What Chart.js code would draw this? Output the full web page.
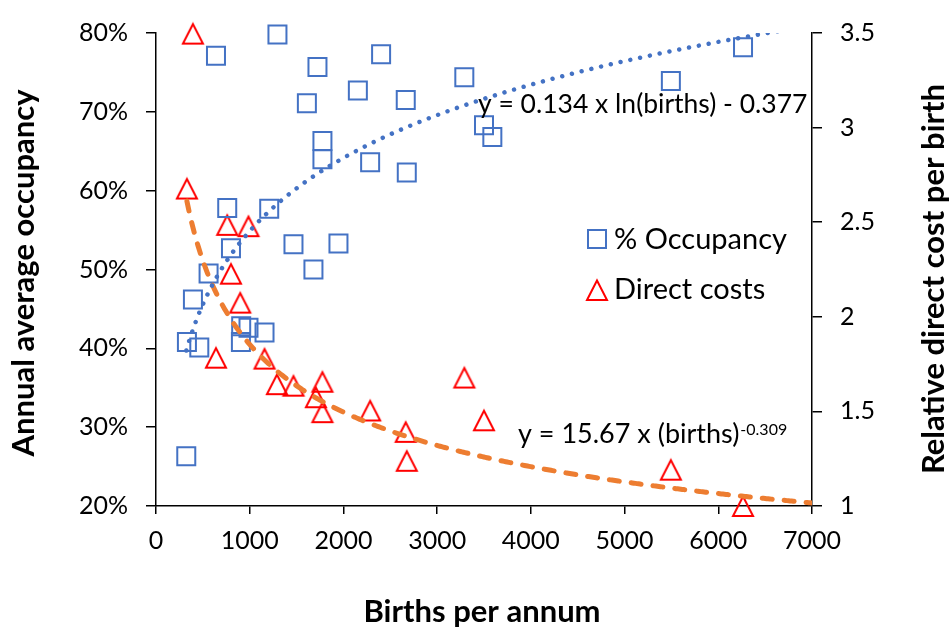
<!DOCTYPE html>
<html>
<head>
<meta charset="utf-8">
<script src="https://cdn.jsdelivr.net/npm/chart.js@4.4.1/dist/chart.umd.min.js"></script>
<style>
  html, body { margin: 0; padding: 0; background: #ffffff; }
  #wrap { width: 949px; height: 628px; position: relative; }
</style>
</head>
<body>
<div id="wrap"><canvas id="chart" width="949" height="628"></canvas></div>
<script>
// Births per annum and annual average occupancy (fraction) per unit
const occBirths = [323, 330, 394, 462, 561, 640, 760, 800, 906, 909, 987, 1158, 1208, 1296, 1467,
                   1610, 1680, 1723, 1776, 1776, 1947, 2154, 2285, 2402, 2665, 2676, 3290, 3500,
                   3589, 5494, 6264];
const occupancy = [0.263, 0.408, 0.462, 0.401, 0.495, 0.771, 0.578, 0.527, 0.408, 0.428, 0.426,
                   0.420, 0.577, 0.798, 0.532, 0.711, 0.500, 0.757, 0.663, 0.640, 0.533, 0.727,
                   0.636, 0.773, 0.715, 0.623, 0.744, 0.683, 0.668, 0.739, 0.782];

// Births per annum and relative direct cost per birth
const costBirths = [330, 394, 640, 760, 800, 899, 987, 1158, 1290, 1467, 1706, 1776, 1776, 2285,
                    2665, 2676, 3290, 3500, 5494, 6264];
const directCost = [2.678, 3.497, 1.784, 2.486, 2.228, 2.075, 2.479, 1.779, 1.644, 1.636, 1.575,
                    1.657, 1.496, 1.505, 1.392, 1.239, 1.679, 1.453, 1.192, 1.000];

// Fitted trend coefficients (as printed on the chart)
const logSlope = 0.134, logIntercept = -0.377;   // occupancy = a ln(births) + b
const powCoef = 15.67, powExp = -0.309;          // cost = c births^k

// Axis ranges and tick steps
const xRange = [0, 7000], xStep = 1000;
const occRange = [0.2, 0.8], occStep = 0.1;
const costRange = [1, 3.5], costStep = 0.5;

const seriesNames = ['% Occupancy', 'Direct costs'];
const axisTitles = { x: 'Births per annum', left: 'Annual average occupancy', right: 'Relative direct cost per birth' };

const BLUE = '#4472C4', RED = '#FF0000', ORANGE = '#ED7D31';
const FONT = 'Lato, "Open Sans", sans-serif';

// Trend curves evaluated from the printed equations, from the first data point to the axis end
function curve(x0, x1, fn) {
  const pts = [];
  const n = 400;
  for (let i = 0; i <= n; i++) {
    const x = x0 + (x1 - x0) * i / n;
    pts.push({ x, y: fn(x) });
  }
  return pts;
}
const logTrend = curve(Math.min(...occBirths), xRange[1], x => logSlope * Math.log(x) + logIntercept);
const powTrend = curve(Math.min(...costBirths), xRange[1], x => powCoef * Math.pow(x, powExp));

// Open triangle marker (equal width and height)
function triangleMarker(color) {
  const c = document.createElement('canvas');
  c.width = 26; c.height = 26;
  const g = c.getContext('2d');
  g.strokeStyle = color;
  g.lineWidth = 2;
  g.lineJoin = 'miter';
  g.beginPath();
  g.moveTo(13, 3.5);
  g.lineTo(23, 23);
  g.lineTo(3, 23);
  g.closePath();
  g.stroke();
  return c;
}
const triImg = triangleMarker(RED);

const overlay = {
  id: 'overlay',
  afterDraw(chart) {
    const ctx = chart.ctx;
    const ca = chart.chartArea;
    ctx.save();
    ctx.fillStyle = '#000';

    // axis titles
    ctx.font = 'bold 31px ' + FONT;
    ctx.textAlign = 'center';
    ctx.textBaseline = 'alphabetic';
    ctx.fillText(axisTitles.x, (ca.left + ca.right) / 2 - 2, 622);
    ctx.save();
    ctx.translate(34, 273);
    ctx.rotate(-Math.PI / 2);
    ctx.fillText(axisTitles.left, 0, 0);
    ctx.restore();
    ctx.save();
    ctx.translate(944, 279);
    ctx.rotate(-Math.PI / 2);
    ctx.fillText(axisTitles.right, 0, 0);
    ctx.restore();

    // trend equations
    ctx.textAlign = 'left';
    ctx.font = '26.5px ' + FONT;
    const eq1 = 'y = ' + logSlope.toFixed(3) + ' x ln(births) - ' + Math.abs(logIntercept).toFixed(3);
    ctx.fillText(eq1, 478, 113);
    ctx.font = '27px ' + FONT;
    const eq2 = 'y = ' + powCoef.toFixed(2) + ' x (births)';
    ctx.fillText(eq2, 518, 443);
    const w2 = ctx.measureText(eq2).width;
    ctx.font = '16px ' + FONT;
    ctx.fillText(powExp.toFixed(3), 518 + w2 + 1, 435);

    // legend
    ctx.font = '29px ' + FONT;
    const lx = 597;
    ctx.strokeStyle = BLUE;
    ctx.lineWidth = 2;
    ctx.strokeRect(lx - 9, 239 - 9, 18, 18);
    ctx.fillText(seriesNames[0], 614, 249);
    ctx.drawImage(triImg, lx - 13, 290 - 13);
    ctx.fillText(seriesNames[1], 614, 299);
    ctx.restore();
  }
};

const axisGrid = len => ({ drawOnChartArea: false, drawTicks: true, tickLength: len, color: '#000', lineWidth: 1.5 });
const axisBorder = { display: true, color: '#000', width: 1.5 };
const tickFont = { family: FONT, size: 25 };

new Chart(document.getElementById('chart'), {
  type: 'scatter',
  data: {
    datasets: [
      {
        label: 'Occupancy trend',
        data: logTrend,
        yAxisID: 'yL',
        showLine: true,
        borderColor: BLUE,
        borderWidth: 4.5,
        borderDash: [0.001, 10],
        borderCapStyle: 'round',
        pointRadius: 0,
        order: 0
      },
      {
        label: 'Cost trend',
        data: powTrend,
        yAxisID: 'yR',
        showLine: true,
        borderColor: ORANGE,
        borderWidth: 5,
        borderDash: [10, 12],
        borderCapStyle: 'round',
        pointRadius: 0,
        order: 0
      },
      {
        label: seriesNames[0],
        data: occBirths.map((b, i) => ({ x: b, y: occupancy[i] })),
        yAxisID: 'yL',
        pointStyle: 'rect',
        pointRadius: 12.73,
        pointBorderWidth: 2,
        pointBorderColor: BLUE,
        pointBackgroundColor: 'rgba(0,0,0,0)',
        clip: false,
        order: 1
      },
      {
        label: seriesNames[1],
        data: costBirths.map((b, i) => ({ x: b, y: directCost[i] })),
        yAxisID: 'yR',
        pointStyle: triImg,
        pointRadius: 13,
        clip: false,
        order: 1
      }
    ]
  },
  options: {
    responsive: false,
    animation: false,
    events: [],
    layout: { padding: { top: 27, left: 0, right: 0, bottom: 0 } },
    plugins: { legend: { display: false }, tooltip: { enabled: false } },
    scales: {
      x: {
        type: 'linear', position: 'bottom',
        min: xRange[0], max: xRange[1],
        ticks: { stepSize: xStep, color: '#000', font: tickFont, padding: 12, maxRotation: 0,
                 callback: v => String(v) },
        grid: axisGrid(8), border: axisBorder,
        afterFit(s) { s.height = 122; }
      },
      yL: {
        type: 'linear', position: 'left',
        min: occRange[0], max: occRange[1],
        ticks: { stepSize: occStep, color: '#000', font: tickFont, padding: 18,
                 callback: v => Math.round(v * 100) + '%' },
        grid: axisGrid(10), border: axisBorder,
        afterFit(s) { s.width = 156; }
      },
      yR: {
        type: 'linear', position: 'right',
        min: costRange[0], max: costRange[1],
        ticks: { stepSize: costStep, color: '#000', font: tickFont, padding: 18,
                 callback: v => String(Math.round(v * 10) / 10) },
        grid: axisGrid(10), border: axisBorder,
        afterFit(s) { s.width = 137; }
      }
    }
  },
  plugins: [overlay]
});
</script>
</body>
</html>
